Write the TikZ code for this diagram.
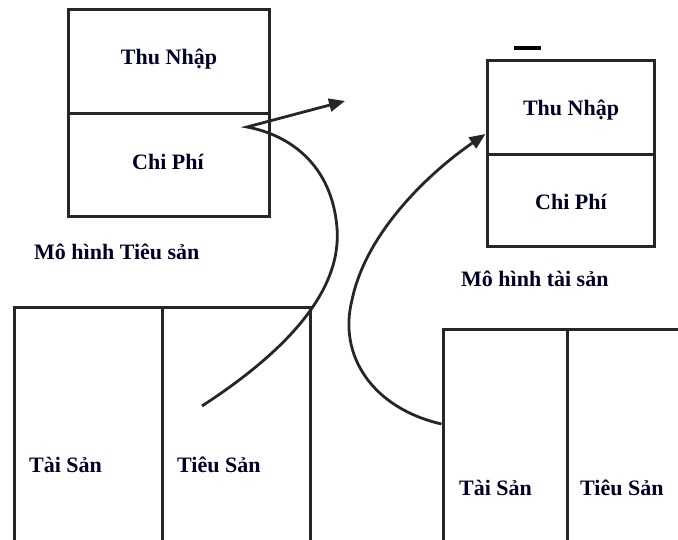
\documentclass[tikz,border=0pt]{standalone}
\usepackage{fontspec}
\setmainfont{Liberation Serif}
\usetikzlibrary{arrows.meta}
\begin{document}
\begin{tikzpicture}[x=1pt,y=-1pt,
  cell/.style={draw=black!85, line width=3pt, inner sep=0pt},
  lbl/.style={font=\fontsize{22}{24}\selectfont\bfseries, text=black!85!blue, inner sep=0pt},
  conn/.style={draw=black!85, line width=2.8pt, -{Triangle[length=16pt,width=13pt]}}]
\useasboundingbox (0,0) rectangle (678,540);
\begin{scope}
\clip (0,0) rectangle (678,540);
% top-left model
\node[cell, minimum width=201pt, minimum height=104pt] (tlIn) at (168.5,62) {};
\node[cell, minimum width=201pt, minimum height=103pt] (tlEx) at (168.5,165.5) {};
\node[lbl] (tlInT) at (169,59) {Thu Nhập};
\node[lbl] (tlExT) at (168,162) {Chi Phí};
\node[lbl, anchor=west] (tlCap) at (34,252) {Mô hình Tiêu sản};
% right model
\node[cell, minimum width=167pt, minimum height=94pt] (rIn) at (570.5,108) {};
\node[cell, minimum width=167pt, minimum height=92pt] (rEx) at (570.5,201) {};
\node[lbl] (rInT) at (571,110) {Thu Nhập};
\node[lbl] (rExT) at (571,202) {Chi Phí};
\node[lbl, anchor=west] (rCap) at (461,279) {Mô hình tài sản};
\draw[line width=3.4pt] (514,48) -- (541,48);
% bottom-left
\node[cell, minimum width=148pt, minimum height=260pt] (blA) at (88,438) {};
\node[cell, minimum width=148pt, minimum height=260pt] (blL) at (236,438) {};
\node[lbl, anchor=west] (blAT) at (29,465) {Tài Sản};
\node[lbl, anchor=west] (blLT) at (177,465) {Tiêu Sản};
% bottom-right
\node[cell, minimum width=124pt, minimum height=240pt] (brA) at (505,450) {};
\node[cell, minimum width=140pt, minimum height=240pt] (brL) at (637,450) {};
\node[lbl, anchor=west] (brAT) at (459,488) {Tài Sản};
\node[lbl, anchor=west] (brLT) at (580,488) {Tiêu Sản};
% connectors
\coordinate (s1) at (202,406);
\coordinate (m1) at (337,228);
\coordinate (v1) at (247,127);
\coordinate (e1) at (345,101);
\draw[conn] (s1) .. controls (285,352) and (342,292) .. (m1)
  .. controls (332,165) and (290,135) .. (v1) -- (e1);
\coordinate (s2) at (brA.west |- 0,424);
\coordinate (m2) at (352,300);
\coordinate (e2) at (rIn.west |- 0,134);
\draw[conn] (s2) .. controls (372,408) and (338,355) .. (m2)
  .. controls (366,232) and (430,172) .. (e2);
\end{scope}
\end{tikzpicture}
\end{document}
